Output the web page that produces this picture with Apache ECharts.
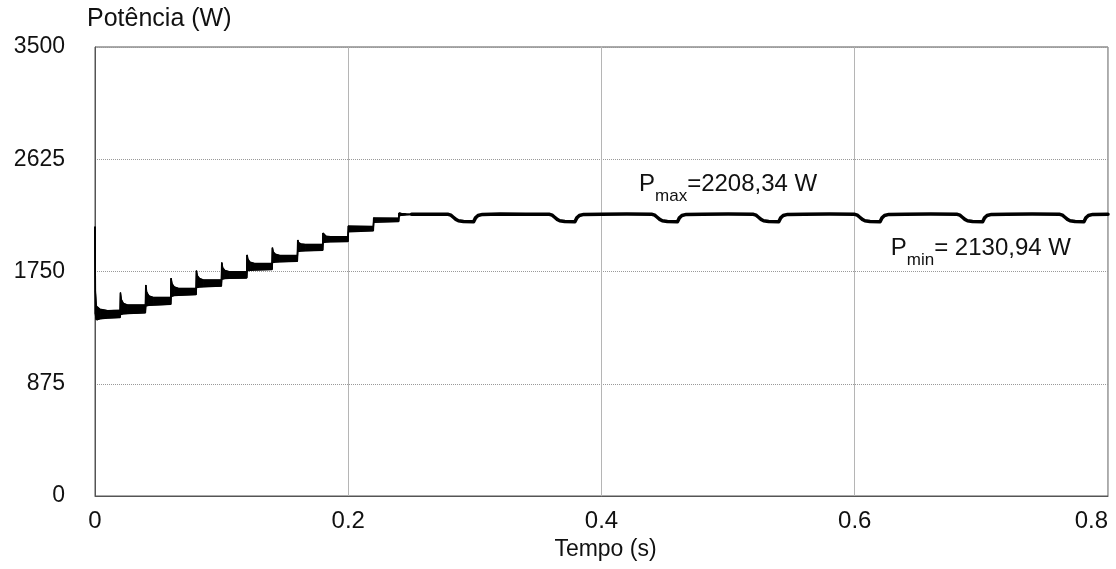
<!DOCTYPE html>
<html>
<head>
<meta charset="utf-8">
<script src="https://cdn.jsdelivr.net/npm/echarts@6/dist/echarts.min.js"></script>
<style>
  html, body { margin: 0; padding: 0; background: #fff; }
  #chart { width: 1116px; height: 569px; }
</style>
</head>
<body>
<div id="chart"></div>
<script>
// Potência x Tempo - faixa de ripple no início, regime permanente depois
const xTicks = [0, 0.2, 0.4, 0.6, 0.8];
const yTicks = [0, 875, 1750, 2625, 3500];

// transitório: tempo, envelope superior e inferior (W)
const tBand = [
  0, 0.0003, 0.001, 0.002, 0.004, 0.010, 0.0198,
  0.0201, 0.0208, 0.0225, 0.026, 0.0398,
  0.0401, 0.0408, 0.0425, 0.046, 0.0598,
  0.0601, 0.0608, 0.0625, 0.066, 0.0798,
  0.0801, 0.0808, 0.0825, 0.086, 0.0998,
  0.1001, 0.1008, 0.1025, 0.106, 0.1198,
  0.1201, 0.1208, 0.1225, 0.126, 0.1398,
  0.1401, 0.1408, 0.1425, 0.146, 0.1598,
  0.1601, 0.1608, 0.1625, 0.166, 0.1798,
  0.1801, 0.1808, 0.1825, 0.186, 0.1998,
  0.2001, 0.201, 0.2198,
  0.2201, 0.221, 0.2398,
  0.2401, 0.242, 0.246, 0.25
];
const pUpper = [
  2099, 1600, 1480, 1470, 1455, 1445, 1448,
  1585, 1530, 1500, 1488, 1488,
  1645, 1590, 1560, 1548, 1548,
  1697, 1655, 1630, 1618, 1618,
  1756, 1718, 1695, 1683, 1683,
  1819, 1780, 1758, 1748, 1748,
  1879, 1843, 1822, 1812, 1812,
  1935, 1902, 1884, 1874, 1874,
  1995, 1975, 1965, 1961, 1961,
  2050, 2035, 2025, 2021, 2021,
  2105, 2100, 2100,
  2168, 2165, 2165,
  2206, 2202, 2198, 2196
];
const pLower = [
  2099, 1420, 1375, 1372, 1382, 1387, 1392,
  1415, 1418, 1420, 1422, 1428,
  1480, 1484, 1486, 1488, 1494,
  1555, 1560, 1563, 1565, 1570,
  1625, 1628, 1630, 1632, 1636,
  1690, 1693, 1695, 1697, 1700,
  1755, 1758, 1760, 1762, 1766,
  1820, 1822, 1824, 1826, 1830,
  1905, 1908, 1910, 1912, 1915,
  1975, 1978, 1980, 1982, 1984,
  2060, 2064, 2068,
  2134, 2137, 2140,
  2185, 2188, 2192, 2194
];

// regime permanente
const tSteady = [
  0.25, 0.26,
  0.279, 0.281, 0.283, 0.285, 0.287, 0.291, 0.299, 0.3005, 0.3025, 0.306, 0.32, 0.34,
  0.359, 0.361, 0.363, 0.365, 0.367, 0.371, 0.379, 0.3805, 0.3825, 0.386, 0.40, 0.42,
  0.440, 0.442, 0.444, 0.446, 0.448, 0.452, 0.460, 0.4615, 0.4635, 0.467, 0.48, 0.50,
  0.520, 0.522, 0.524, 0.526, 0.528, 0.532, 0.540, 0.5415, 0.5435, 0.547, 0.56, 0.58,
  0.600, 0.602, 0.604, 0.606, 0.608, 0.612, 0.620, 0.6215, 0.6235, 0.627, 0.64, 0.66,
  0.681, 0.683, 0.685, 0.687, 0.689, 0.693, 0.701, 0.7025, 0.7045, 0.708, 0.72, 0.74,
  0.762, 0.764, 0.766, 0.768, 0.770, 0.774, 0.781, 0.7825, 0.7845, 0.788, 0.80
];
const pSteady = [
  2196, 2197,
  2196, 2189, 2173, 2156, 2146, 2139, 2137, 2168, 2186, 2195, 2198, 2196,
  2196, 2189, 2173, 2156, 2146, 2139, 2137, 2168, 2186, 2195, 2197, 2198,
  2196, 2189, 2173, 2156, 2146, 2139, 2137, 2168, 2186, 2195, 2197, 2198,
  2196, 2189, 2173, 2156, 2146, 2139, 2137, 2168, 2186, 2195, 2197, 2198,
  2196, 2189, 2173, 2156, 2146, 2139, 2137, 2168, 2186, 2195, 2197, 2198,
  2196, 2189, 2173, 2156, 2146, 2139, 2137, 2168, 2186, 2195, 2197, 2198,
  2196, 2189, 2173, 2156, 2146, 2139, 2137, 2168, 2186, 2195, 2197
];

const fontFam = "'Liberation Sans', Arial, sans-serif";
const zip = (a, b) => a.map((v, i) => [v, b[i]]);
const bandRows = tBand.map((t, i) => [t, pLower[i], pUpper[i]]);

// quadrilátero entre o ponto i e i+1 da faixa
function renderBand(params, api) {
  const i = params.dataIndex;
  if (i >= bandRows.length - 1) return null;
  const a = bandRows[i], b = bandRows[i + 1];
  const pts = [
    api.coord([a[0], a[2]]),
    api.coord([b[0], b[2]]),
    api.coord([b[0], b[1]]),
    api.coord([a[0], a[1]])
  ];
  return {
    type: "polygon",
    shape: { points: pts },
    style: { fill: "#000", stroke: "#000", lineWidth: 1 },
    silent: true
  };
}

const chart = echarts.init(document.getElementById("chart"), null, { renderer: "canvas" });

chart.setOption({
  animation: false,
  backgroundColor: "#fff",
  textStyle: { fontFamily: fontFam },
  title: {
    text: "Potência (W)",
    left: 87,
    top: 7,
    padding: 0,
    textStyle: { fontSize: 25, fontWeight: "normal", color: "#111", fontFamily: fontFam }
  },
  grid: {
    left: 95,
    right: 8,
    top: 47,
    bottom: 73,
    show: true,
    borderColor: "#555",
    borderWidth: 1
  },
  xAxis: {
    type: "value",
    min: xTicks[0],
    max: xTicks[xTicks.length - 1],
    interval: 0.2,
    name: "Tempo (s)",
    nameLocation: "middle",
    nameGap: 42,
    nameTextStyle: { fontSize: 23, color: "#111", fontFamily: fontFam, padding: [0, 0, 0, 8] },
    axisLine: { show: true, lineStyle: { color: "#555", width: 1 } },
    axisTick: { show: false },
    axisLabel: {
      margin: 13,
      fontSize: 24,
      color: "#111",
      fontFamily: fontFam,
      alignMaxLabel: "right"
    },
    splitLine: { show: true, lineStyle: { color: "#b5b5b5", width: 1, type: "solid" } }
  },
  yAxis: {
    type: "value",
    min: yTicks[0],
    max: yTicks[yTicks.length - 1],
    interval: 875,
    axisLine: { show: true, lineStyle: { color: "#555", width: 1 } },
    axisTick: { show: false },
    axisLabel: {
      margin: 30,
      fontSize: 23,
      color: "#111",
      fontFamily: fontFam,
      formatter: (v) => String(v)
    },
    splitLine: { show: true, lineStyle: { color: "#999", width: 1, type: "dotted" } }
  },
  series: [
    {
      name: "faixa",
      type: "custom",
      silent: true,
      renderItem: renderBand,
      encode: { x: 0, y: [1, 2] },
      data: bandRows,
      z: 3
    },
    {
      type: "line",
      symbol: "none",
      silent: true,
      lineStyle: { color: "#000", width: 1.5 },
      data: zip(tBand, pUpper),
      z: 4
    },
    {
      type: "line",
      symbol: "none",
      silent: true,
      lineStyle: { color: "#000", width: 1.5 },
      data: zip(tBand, pLower),
      z: 4
    },
    {
      name: "Potência",
      type: "line",
      symbol: "none",
      silent: true,
      lineStyle: { color: "#000", width: 3.5, join: "round", cap: "round" },
      data: zip(tSteady, pSteady),
      z: 4,
      markPoint: {
        symbol: "circle",
        symbolSize: 0,
        silent: true,
        label: {
          show: true,
          position: "inside",
          color: "#111",
          fontFamily: fontFam,
          rich: {
            p: { fontSize: 24, color: "#111", fontFamily: fontFam, lineHeight: 28, verticalAlign: "top" },
            s: { fontSize: 17, color: "#111", fontFamily: fontFam, lineHeight: 14, verticalAlign: "top", padding: [16, 0, 0, 0] }
          }
        },
        data: [
          { coord: [0.5, 2415], label: { formatter: "{p|P}{s|max}{p|=2208,34 W}" } },
          { coord: [0.6996, 1918], label: { formatter: "{p|P}{s|min}{p|= 2130,94 W}" } }
        ]
      }
    }
  ]
});
</script>
</body>
</html>
